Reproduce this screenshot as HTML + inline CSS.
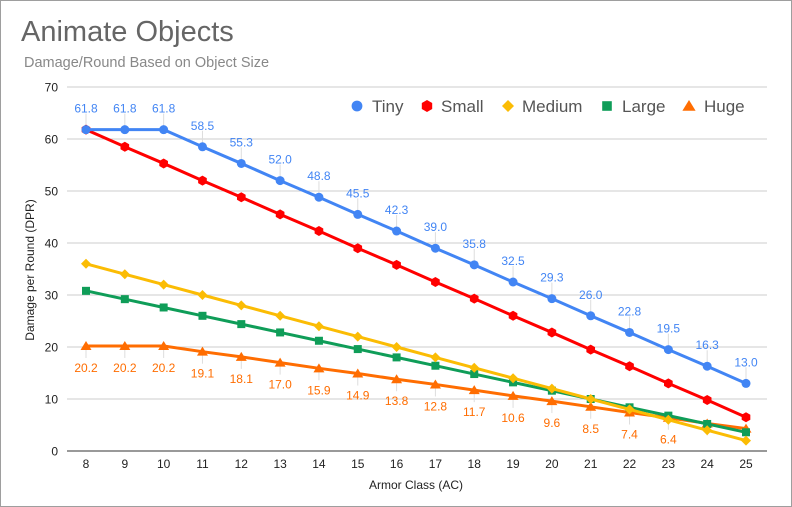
<!DOCTYPE html>
<html><head><meta charset="utf-8"><style>
body{margin:0;background:#fff}
svg{display:block;font-family:"Liberation Sans",Arial,sans-serif}
</style></head><body>
<svg width="792" height="507" viewBox="0 0 792 507" xmlns="http://www.w3.org/2000/svg">
<rect x="0.5" y="0.5" width="791" height="506" fill="#fff" stroke="#9e9e9e"/>
<text x="21" y="41" font-size="29" fill="#666">Animate Objects</text>
<text x="24" y="67" font-size="14.5" fill="#888">Damage/Round Based on Object Size</text>
</svg>
<script>
const svg=document.querySelector('svg');const NS='http://www.w3.org/2000/svg';
function el(t,a,txt){const e=document.createElementNS(NS,t);for(const k in a)e.setAttribute(k,a[k]);if(txt!==undefined)e.textContent=txt;svg.appendChild(e);return e;}
const X=i=>86+i*660/17, Y=v=>451-v*5.2;
for(let v=10;v<=70;v+=10)el('line',{x1:67,x2:767,y1:Y(v),y2:Y(v),stroke:'#ccc','stroke-width':1});
for(let v=0;v<=70;v+=10)el('text',{x:58,y:Y(v)+4.5,'font-size':12,'text-anchor':'end',fill:'#222'},v);
for(let i=0;i<18;i++)el('text',{x:X(i),y:468,'font-size':12,'text-anchor':'middle',fill:'#222'},8+i);
el('text',{x:416,y:489,'font-size':12,'text-anchor':'middle',fill:'#222'},'Armor Class (AC)');
el('text',{x:0,y:0,'font-size':12,'text-anchor':'middle',fill:'#222',transform:'translate(34,270) rotate(-90)'},'Damage per Round (DPR)');
const tiny=[61.8,61.8,61.8,58.5,55.3,52.0,48.8,45.5,42.3,39.0,35.8,32.5,29.3,26.0,22.8,19.5,16.3,13.0];
const small=[61.8,58.5,55.3,52.0,48.8,45.5,42.3,39.0,35.8,32.5,29.3,26.0,22.8,19.5,16.3,13.0,9.8,6.5];
const med=[],lg=[];for(let i=0;i<18;i++){med.push(36-2*i);lg.push(30.8-1.6*i);}
const huge=[20.2,20.2,20.2,19.1,18.1,17.0,15.9,14.9,13.8,12.8,11.7,10.6,9.6,8.5,7.4,6.4,5.3,4.3];
for(let i=0;i<18;i++){el('line',{x1:X(i),x2:X(i),y1:Y(tiny[i])-16,y2:Y(tiny[i]),stroke:'#ddd'});el('line',{x1:X(i),x2:X(i),y1:Y(huge[i]),y2:Y(huge[i])+12,stroke:'#ddd'});}
el('line',{x1:67,x2:767,y1:451,y2:451,stroke:'#333','stroke-width':1});
function marker(type,x,y,c,s){s=s||1;
 if(type=='c')el('circle',{cx:x,cy:y,r:4.5*s,fill:c});
 if(type=='h'){let p=[];for(let k=0;k<6;k++){const a=Math.PI/3*k+Math.PI/6;p.push((x+5*s*Math.cos(a))+','+(y+5*s*Math.sin(a)));}el('polygon',{points:p.join(' '),fill:c});}
 if(type=='d')el('polygon',{points:`${x},${y-5*s} ${x+5*s},${y} ${x},${y+5*s} ${x-5*s},${y}`,fill:c});
 if(type=='s')el('rect',{x:x-4*s,y:y-4*s,width:8*s,height:8*s,fill:c});
 if(type=='t')el('polygon',{points:`${x},${y-5*s} ${x+5.5*s},${y+4*s} ${x-5.5*s},${y+4*s}`,fill:c});
}
function series(d,c,m){el('polyline',{points:d.map((v,i)=>X(i)+','+Y(v)).join(' '),fill:'none',stroke:c,'stroke-width':3,'stroke-linejoin':'round'});d.forEach((v,i)=>marker(m,X(i),Y(v),c));}
series(huge,'#ff6d01','t');series(lg,'#0f9d58','s');series(med,'#fbbc04','d');series(small,'#ff0000','h');series(tiny,'#4285f4','c');
tiny.forEach((v,i)=>el('text',{x:X(i),y:Y(v)-17,'font-size':12,'text-anchor':'middle',fill:'#4285f4'},v.toFixed(1)));
huge.forEach((v,i)=>{if(i<16)el('text',{x:X(i),y:Y(v)+26,'font-size':12,'text-anchor':'middle',fill:'#ff6d01'},v.toFixed(1));});
const L=[['c','#4285f4',357,372,'Tiny'],['h','#ff0000',427,441,'Small'],['d','#fbbc04',508,522,'Medium'],['s','#0f9d58',607,622,'Large'],['t','#ff6d01',689,704,'Huge']];
L.forEach(l=>{marker(l[0],l[2],106,l[1],1.2);el('text',{x:l[3],y:112,'font-size':17,fill:'#555'},l[4]);});
</script>
</body></html>
